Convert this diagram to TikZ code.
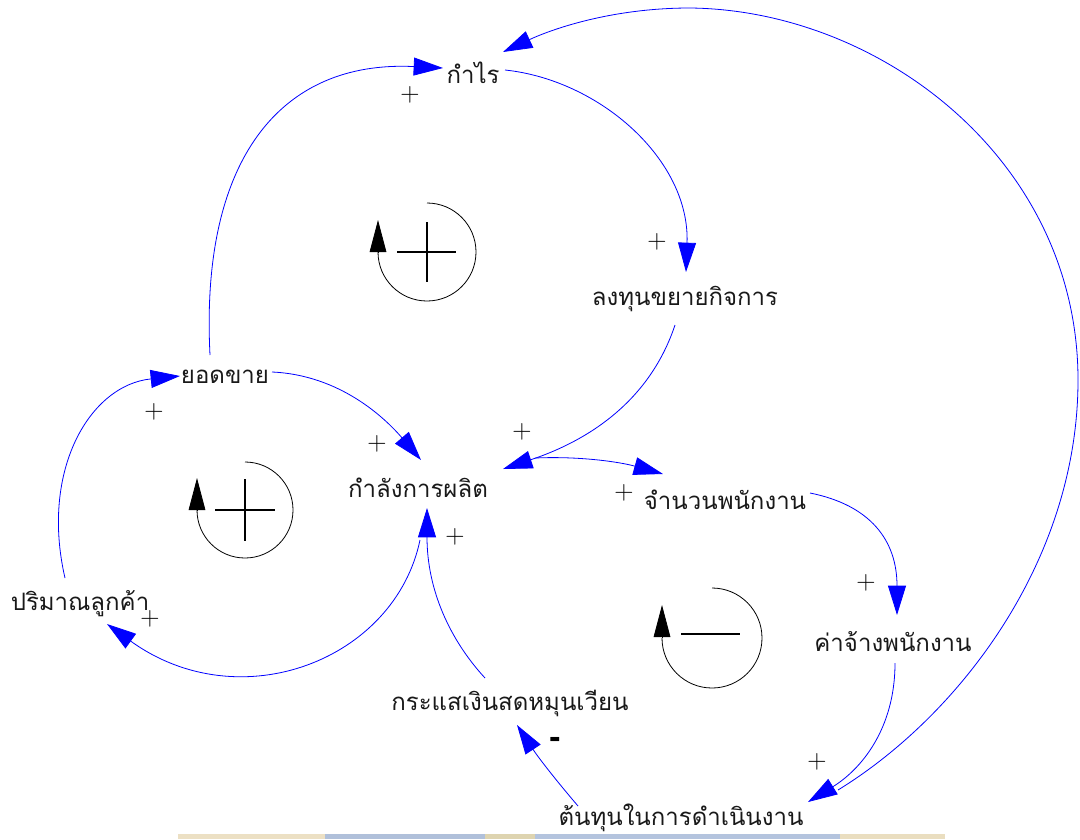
\documentclass[tikz,border=0pt]{standalone}
\usepackage{fontspec}
\newfontfamily\thaifont[Script=Thai]{Loma}
\newfontfamily\signfont{Liberation Sans}
\usetikzlibrary{arrows.meta}

\begin{document}
\begin{tikzpicture}[x=0.75pt,y=-0.75pt,
  var/.style={font=\thaifont\fontsize{18}{20}\selectfont, inner sep=0pt, text=black!90},
  pol/.style={font=\fontsize{20}{20}\selectfont, inner sep=0pt, text=black},
  link/.style={blue, line width=0.6pt, -{Triangle[length=22pt,width=13.5pt]}},
  loopline/.style={black, line width=0.6pt},
  loophead/.style={-{Triangle[length=24pt,width=12.5pt]}},
  loopsign/.style={black, line width=2.2pt},
]
\useasboundingbox (0,0) rectangle (1080,839);

% faint band along the bottom edge
\fill[fill={rgb,255:red,236;green,224;blue,196}] (178,834) rectangle (325,839);
\fill[fill={rgb,255:red,176;green,192;blue,218}] (325,834) rectangle (485,839);
\fill[fill={rgb,255:red,222;green,212;blue,176}] (485,834) rectangle (535,839);
\fill[fill={rgb,255:red,180;green,196;blue,222}] (535,834) rectangle (840,839);
\fill[fill={rgb,255:red,234;green,222;blue,192}] (840,834) rectangle (945,839);

% variables
\node[var] (kamrai)   at (473,73)  {กำไร};
\node[var] (longtun)  at (685,299) {ลงทุนขยายกิจการ};
\node[var] (yod)      at (225,377) {ยอดขาย};
\node[var] (kamlang)  at (418,488) {กำลังการผลิต};
\node[var] (jamnuan)  at (725,500) {จำนวนพนักงาน};
\node[var] (parimaan) at (80,604)  {ปริมาณลูกค้า};
\node[var] (kaajang)  at (893,642) {ค่าจ้างพนักงาน};
\node[var] (krasae)   at (510,703) {กระแสเงินสดหมุนเวียน};
\node[var] (tonthun)  at (681,818) {ต้นทุนในการดำเนินงาน};

% causal links
\draw[link] ([shift={(-15,-22)}]yod.center) .. controls (200,160) and (280,60) .. ([shift={(-30,-5)}]kamrai.center);
\draw[link] ([shift={(32,-3)}]kamrai.center) .. controls (600,80) and (690,160) .. ([shift={(1,-27)}]longtun.center);
\draw[link] ([shift={(-10,26)}]longtun.center) .. controls (650,400) and (590,440) .. ([shift={(85,-19)}]kamlang.center);
\draw[link] ([shift={(47,-5)}]yod.center) .. controls (340,375) and (385,418) .. ([shift={(3,-28)}]kamlang.center);
\draw[link] ([shift={(117,-30)}]kamlang.center) .. controls (580,456) and (620,462) .. ([shift={(-62,-26)}]jamnuan.center);
\draw[link] ([shift={(85,-7)}]jamnuan.center) .. controls (870,505) and (897,540) .. ([shift={(4,-27)}]kaajang.center);
\draw[link] ([shift={(2,21)}]kaajang.center) .. controls (895,730) and (860,770) .. ([shift={(127,-16)}]tonthun.center);
\draw[link] ([shift={(157,-28)}]tonthun.center) .. controls (960,715) and (1078,560) .. (1078,380)
  .. controls (1078,160) and (880,10) .. (690,8)
  .. controls (610,8) and (550,30) .. ([shift={(30,-21)}]kamrai.center);
\draw[link] ([shift={(-25,-25)}]krasae.center) .. controls (450,640) and (427,590) .. ([shift={(9,20)}]kamlang.center);
\draw[link] ([shift={(-103,-12)}]tonthun.center) .. controls (560,785) and (540,760) .. ([shift={(7,22)}]krasae.center);
\draw[link] ([shift={(2,52)}]kamlang.center) .. controls (395,660) and (240,720) .. ([shift={(27,20)}]parimaan.center);
\draw[link] ([shift={(-15,-26)}]parimaan.center) .. controls (40,470) and (90,385) .. ([shift={(-45,-1)}]yod.center);

% link polarities
\node[pol] (p1)  at (410,95)  {+};
\node[pol] (p2)  at (657,242) {+};
\node[pol] (p3)  at (522,432) {+};
\node[pol] (p4)  at (377,444) {+};
\node[pol] (p5)  at (624,493) {+};
\node[pol] (p6)  at (866,583) {+};
\node[pol] (p7)  at (817,762) {+};
\node[pol] (p8)  at (455,537) {+};
\node[pol] (p9)  at (150,619) {+};
\node[pol] (p10) at (154,412) {+};
\node[pol,font=\signfont\bfseries\fontsize{26}{26}\selectfont] (p11) at (555,743) {-};

% loop markers
\coordinate (loopA) at (427,252);
\coordinate (loopB) at (245,510);
\coordinate (loopC) at (712,637);

\draw[loopline] ([shift={(0,-49)}]loopA) arc[start angle=-90, end angle=180, radius=49];
\draw[loopline, loophead] ([shift={(-49,0)}]loopA) -- ++(0,-32);
\draw[loopsign] ([shift={(-30,0)}]loopA) -- ([shift={(29,0)}]loopA)
                ([shift={(0,-30)}]loopA) -- ([shift={(0,30)}]loopA);

\draw[loopline] ([shift={(0,-48)}]loopB) arc[start angle=-90, end angle=180, radius=48];
\draw[loopline, loophead] ([shift={(-48,0)}]loopB) -- ++(0,-32);
\draw[loopsign] ([shift={(-30,0)}]loopB) -- ([shift={(30,0)}]loopB)
                ([shift={(0,-31)}]loopB) -- ([shift={(0,31)}]loopB);

\draw[loopline] ([shift={(0,-49)}]loopC) arc[start angle=-90, end angle=180, radius=50];
\draw[loopline, loophead] ([shift={(-50,0)}]loopC) -- ++(0,-32);
\draw[loopsign] ([shift={(-31,-3)}]loopC) -- ([shift={(28,-3)}]loopC);
\end{tikzpicture}
\end{document}
